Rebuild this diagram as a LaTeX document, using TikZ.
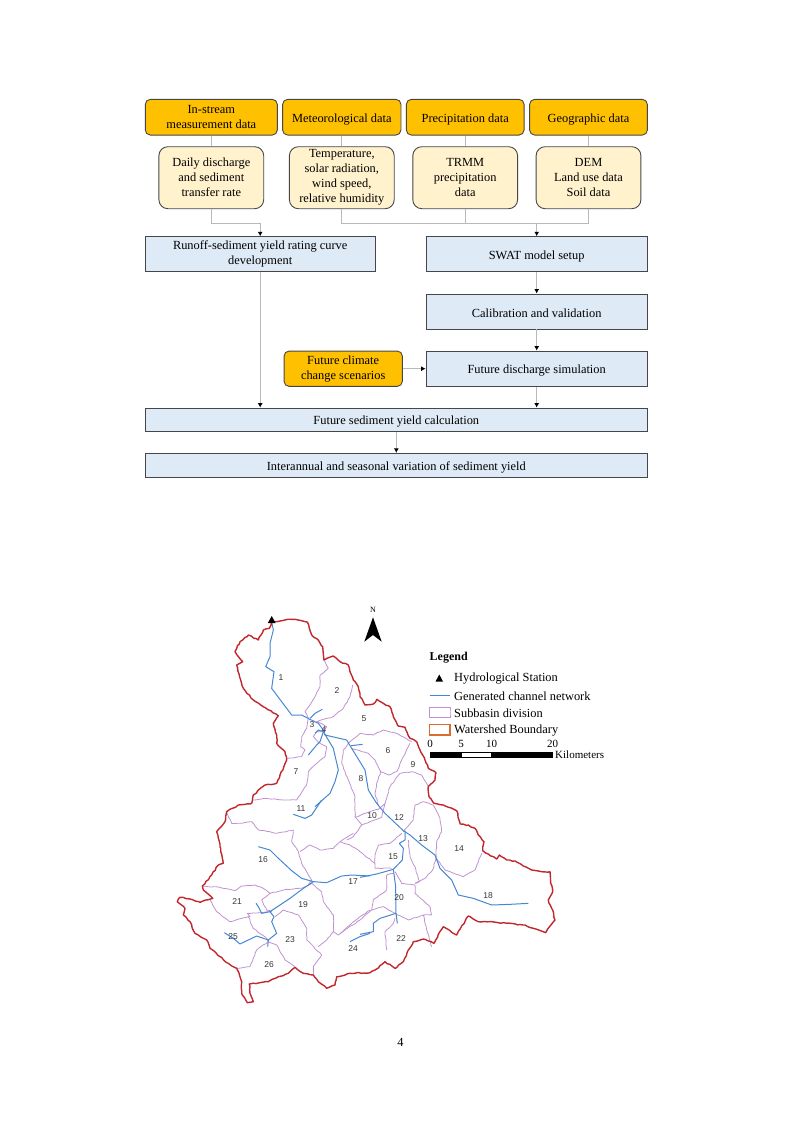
\documentclass[tikz,border=0pt]{standalone}
\usepackage{fontspec}
\setmainfont{Liberation Serif}
\setsansfont{Liberation Sans}
\usetikzlibrary{arrows.meta, positioning, calc, decorations.pathmorphing}
\definecolor{inputcolor}  {RGB}{255, 192, 0}
\definecolor{datacolor}   {RGB}{255, 242, 204}
\definecolor{stepcolor}   {RGB}{222, 234, 246}
\definecolor{edgecolor}   {RGB}{70, 70, 72}
\definecolor{wirecolor}   {RGB}{185, 185, 185}
\definecolor{bordercolor} {RGB}{192, 40, 45}
\definecolor{rivercolor}  {RGB}{70, 135, 212}
\definecolor{subcolor}    {RGB}{192, 146, 208}
\definecolor{legendorange}{RGB}{217, 108, 48}
\pgfmathsetseed{7}
\tikzset{
	baseblock/.style={
		rectangle, inner sep=0pt,
		align=center, font=\fontsize{12.4}{15}\selectfont,
		execute at begin node={\rule{0pt}{12.5pt}},
		draw=edgecolor, line width=0.9pt
	},
	inputblock/.style={
		baseblock, rounded corners=5pt, fill=inputcolor
	},
	datablock/.style={
		baseblock, rounded corners=9pt, fill=datacolor,
		minimum width=104.8pt, minimum height=62pt
	},
	stepblock/.style={
		baseblock, fill=stepcolor
	},
	wire/.style={
		line width=1pt, color=wirecolor
	},
	arrow/.style={
		-{Latex[length=4.5pt,width=5pt,color=black]},
		line width=1pt, color=wirecolor
	},
	boundaryline/.style={
		draw=bordercolor, line width=1.4pt, line join=round,
		decorate, decoration={random steps, segment length=3pt, amplitude=0.6pt}
	},
	riverline/.style={
		draw=rivercolor, line width=1pt, line join=round
	},
	subline/.style={
		draw=subcolor, line width=0.8pt, line join=round,
		decorate, decoration={random steps, segment length=3pt, amplitude=0.4pt}
	},
	subno/.style={
		font=\sffamily\fontsize{8.5}{10}\selectfont, text=black!80, inner sep=0pt
	},
	legendtext/.style={
		font=\fontsize{12.4}{14}\selectfont, anchor=west, inner sep=0pt
	},
	scaletext/.style={
		font=\fontsize{11}{13}\selectfont, inner sep=0pt
	},
	zoomA/.style={shift={(170,600)}, x=0.33333pt, y=-0.33333pt},
	zoomB/.style={shift={(170,800)}, x=0.33333pt, y=-0.33333pt},
	zoomC/.style={shift={(360,760)}, x=0.33333pt, y=-0.33333pt},
	zoomD/.style={shift={(340,730)}, x=0.33333pt, y=-0.33333pt},
	zoomE/.style={shift={(340,830)}, x=0.33333pt, y=-0.33333pt}
}
\begin{document}
\begin{tikzpicture}[x=1pt, y=-1pt]
	\useasboundingbox (0,0) rectangle (793,1122);

	%% ===============================
	%%  ROW 1 - input data
	%% ===============================
	\node[inputblock, minimum width=132pt, minimum height=35.7pt] (instream) at (211.3,117.2) {In-stream\\measurement data};
	\node[inputblock, minimum width=118.3pt, minimum height=35.7pt] (meteo) at (341.8,117.2) {Meteorological data};
	\node[inputblock, minimum width=117.7pt, minimum height=35.7pt] (precip) at (465.2,117.2) {Precipitation data};
	\node[inputblock, minimum width=117.7pt, minimum height=35.7pt] (geo) at (588.5,117.2) {Geographic data};

	%% ===============================
	%%  ROW 2 - data sets
	%% ===============================
	\node[datablock] (discharge) at (211.3,177.7) {Daily discharge\\and sediment\\transfer rate};
	\node[datablock] (climate) at (341.8,177.7) {Temperature,\\solar radiation,\\wind speed,\\relative humidity};
	\node[datablock] (trmm) at (465.2,177.7) {TRMM\\precipitation\\data};
	\node[datablock] (dem) at (588.5,177.7) {DEM\\Land use data\\Soil data};

	%% ===============================
	%%  ROW 3 - processing steps
	%% ===============================
	\node[stepblock, minimum width=229.7pt, minimum height=35pt] (rating) at (260.2,254.2) {Runoff-sediment yield rating curve\\development};
	\node[stepblock, minimum width=221.3pt, minimum height=35pt] (swat) at (536.7,254.2) {SWAT model setup};
	\node[stepblock, minimum width=221.3pt, minimum height=35pt] (calib) at (536.7,311.5) {Calibration and validation};
	\node[stepblock, minimum width=221.3pt, minimum height=35.3pt] (simul) at (536.7,368.7) {Future discharge simulation};
	\node[inputblock, minimum width=118.3pt, minimum height=35.3pt] (scenario) at (343.2,368.7) {Future climate\\change scenarios};
	\node[stepblock, minimum width=502pt, minimum height=23.7pt] (sedyield) at (396.3,419.9) {Future sediment yield calculation};
	\node[stepblock, minimum width=502pt, minimum height=23.7pt] (variation) at (396.3,465.2) {Interannual and seasonal variation of sediment yield};

	% input -> data set
	\draw[wire] (instream.south) -- (discharge.north);
	\draw[wire] (meteo.south) -- (climate.north);
	\draw[wire] (precip.south) -- (trmm.north);
	\draw[wire] (geo.south) -- (dem.north);

	% data set -> rating curve
	\coordinate (bendleft) at (211.3,223.3);
	\draw[wire] (discharge.south) -- (bendleft);
	\draw[arrow] (bendleft) -| (rating.north);

	% data sets -> SWAT
	\coordinate (bendmid) at (536.7,223.3);
	\draw[wire] (climate.south) |- (bendmid);
	\draw[wire] (trmm.south) |- (bendmid);
	\draw[wire] (dem.south) |- (bendmid);
	\draw[arrow] (bendmid) -- (swat.north);

	\draw[arrow] (swat.south) -- (calib.north);
	\draw[arrow] (calib.south) -- (simul.north);
	\draw[arrow] (scenario.east) -- (simul.west);
	\draw[arrow] (simul.south) -- (simul.south |- sedyield.north);
	\draw[arrow] (rating.south) -- (rating.south |- sedyield.north);
	\draw[arrow] (sedyield.south) -- (variation.north);

	%% ===============================
	%%  MAP - subbasin division
	%% ===============================
	\begin{scope}[zoomA]
		\draw[subline] (462,180) -- (475,205) -- (450,225) -- (450,260) -- (432,295) -- (405,335) -- (415,355) -- (410,385) -- (395,410) -- (392,440) -- (405,450) -- (395,470) -- (350,475);
		\draw[subline] (548,255) -- (540,290) -- (520,325) -- (490,350) -- (460,358) -- (440,365) -- (470,380) -- (462,395) -- (440,395) -- (430,410) -- (450,430) -- (470,440) -- (465,470) -- (440,490) -- (415,515) -- (410,555) -- (380,600) -- (340,600) -- (290,595) -- (245,600);
	\end{scope}
	\begin{scope}[zoomD]
		\draw[subline] (215,35) -- (170,10) -- (130,0) -- (100,15) -- (60,10) -- (30,35) -- (10,60) -- (5,100) -- (25,150) -- (45,200) -- (45,260) -- (65,285) -- (40,320) -- (20,330);
		\draw[subline] (35,55) -- (65,65) -- (85,70) -- (105,90) -- (122,125) -- (110,160) -- (105,190) -- (115,225);
		\draw[subline] (122,125) -- (145,135) -- (170,125) -- (185,90) -- (210,40);
		\draw[subline] (135,220) -- (150,170) -- (180,130) -- (215,125) -- (245,135) -- (265,170);
		\draw[subline] (45,262) -- (75,250) -- (115,238) -- (135,220) -- (125,262) -- (90,275) -- (65,285);
		\draw[subline] (190,305) -- (220,270) -- (225,225) -- (250,215) -- (280,225) -- (300,265) -- (305,305);
	\end{scope}
	\begin{scope}[zoomB]
		\draw[subline] (170,35) -- (185,70) -- (215,70) -- (245,65) -- (265,90) -- (300,95) -- (320,100) -- (370,90) -- (365,125) -- (385,155) -- (395,190) -- (425,240) -- (415,255);
		\draw[subline] (390,155) -- (420,135) -- (450,150) -- (490,145) -- (510,125) -- (550,100);
		\draw[subline] (97,258) -- (150,262) -- (195,272) -- (215,258) -- (255,255) -- (280,265) -- (300,280) -- (275,300) -- (290,330) -- (305,335);
		\draw[subline] (300,280) -- (340,270) -- (395,265) -- (425,250);
		\draw[subline] (425,250) -- (455,275) -- (460,305) -- (490,345) -- (490,395) -- (505,405) -- (540,375) -- (570,350) -- (600,330);
		\draw[subline] (120,300) -- (140,335) -- (180,365) -- (215,355) -- (240,350) -- (232,340) -- (270,338) -- (300,335);
		\draw[subline] (235,350) -- (250,385) -- (290,415) -- (295,425);
		\draw[subline] (315,350) -- (340,330) -- (385,345) -- (410,385) -- (410,420) -- (455,465) -- (430,500) -- (430,525);
		\draw[subline] (490,395) -- (470,420) -- (445,440);
		\draw[subline] (295,425) -- (320,435) -- (345,480) -- (375,500);
		\draw[subline] (295,425) -- (260,450) -- (240,500) -- (200,505);
	\end{scope}
	\begin{scope}[zoomC]
		\draw[subline] (245,215) -- (230,245) -- (228,295) -- (218,330) -- (195,355) -- (165,370);
		\draw[subline] (228,295) -- (255,330) -- (310,350) -- (345,330) -- (365,280);
		\draw[subline] (145,240) -- (150,290) -- (165,320) -- (178,365) -- (165,370);
	\end{scope}
	\begin{scope}[zoomE]
		\draw[subline] (185,10) -- (150,40) -- (115,45) -- (105,75) -- (105,115) -- (155,115);
		\draw[subline] (0,35) -- (30,45) -- (60,65) -- (105,100);
		\draw[subline] (165,125) -- (185,160) -- (225,165) -- (225,190) -- (270,230) -- (275,255) -- (250,255) -- (260,300) -- (275,350);
		\draw[subline] (160,130) -- (140,135) -- (140,180) -- (100,210) -- (95,240) -- (130,230) -- (165,250) -- (205,270) -- (250,255);
		\draw[subline] (95,240) -- (60,270) -- (0,310);
		\draw[subline] (165,265) -- (160,280) -- (135,305) -- (140,360);
	\end{scope}

	%% ===============================
	%%  MAP - channel network
	%% ===============================
	\begin{scope}[zoomA]
		\draw[riverline] (305,65) -- (310,90) -- (300,130) -- (300,170) -- (287,200) -- (312,215) -- (305,265) -- (320,285) -- (365,345) -- (395,345) -- (420,358) -- (445,370) -- (460,390) -- (465,405) -- (530,420) -- (545,445) -- (585,510);
		\draw[riverline] (460,395) -- (490,445) -- (505,510) -- (495,545) -- (480,580) -- (435,620);
		\draw[riverline] (420,355) -- (435,340) -- (457,328);
		\draw[riverline] (543,437) -- (578,433);
		\draw[riverline] (460,395) -- (450,425) -- (440,435) -- (415,465);
		\draw[riverline] (435,400) -- (445,390) -- (460,395);
	\end{scope}
	\begin{scope}[zoomB]
		\draw[riverline] (455,0) -- (425,45) -- (405,55) -- (370,43);
		\draw[riverline] (600,228) -- (545,225) -- (515,228) -- (470,248) -- (430,245) -- (395,235) -- (365,212) -- (320,170) -- (300,150) -- (265,140);
		\draw[riverline] (430,245) -- (400,265) -- (360,295) -- (300,335) -- (275,340) -- (265,320) -- (258,310);
		\draw[riverline] (300,335) -- (312,350) -- (305,365) -- (320,400) -- (295,420) -- (260,408) -- (210,432) -- (190,415) -- (163,398);
		\draw[riverline] (295,420) -- (293,440);
		\draw[riverline] (600,400) -- (570,410) -- (540,425);
	\end{scope}
	\begin{scope}[zoomC]
		\draw[riverline] (15,30) -- (25,90) -- (50,130) -- (75,160) -- (130,212) -- (150,225) -- (185,255) -- (225,285) -- (240,325) -- (275,360) -- (295,405) -- (340,415) -- (395,435) -- (450,433) -- (505,430);
		\draw[riverline] (135,212) -- (135,240) -- (118,250) -- (130,265) -- (127,300) -- (100,328) -- (50,342) -- (0,352);
		\draw[riverline] (100,328) -- (107,380) -- (108,460) -- (112,490);
		\draw[riverline] (108,460) -- (60,475) -- (40,490) -- (40,515) -- (0,523);
	\end{scope}

	%% ===============================
	%%  MAP - watershed boundary
	%% ===============================
	\draw[boundaryline] (271.7,621.7) -- (276.7,621.7) -- (285,620) -- (295,619.3) -- (301.7,620.7) -- (307.3,622) -- (309.3,628.3) -- (311.7,635) -- (318.3,640) -- (322.7,646.7) -- (324,660) -- (333.3,656) -- (340,661.7) -- (348.3,665) -- (350,671.7) -- (353.3,680) -- (358.3,686.7) -- (360,696.7) -- (365,705) -- (373.3,704) -- (377,699.3) -- (383.3,703.3) -- (390,706.7) -- (393.3,716.7) -- (398.3,726) -- (405,727.3) -- (410,738.3) -- (416.7,741.7) -- (420,750) -- (425,760) -- (428.3,768.3) -- (436,772.7) -- (435,780) -- (428.3,786.7) -- (429,796.7) -- (434,803.3) -- (443.3,805) -- (456.7,810.7) -- (460,824) -- (468.3,825) -- (475,828.3) -- (478.3,835) -- (484,841.7) -- (482.7,850.7) -- (496.7,859) -- (499.3,855) -- (506.7,860) -- (515,861) -- (523.3,866) -- (531.7,870) -- (541.7,871.7) -- (550,871.7) -- (550.7,883.3) -- (552.7,891.7) -- (548.3,900) -- (551.7,908.3) -- (555,920) -- (545.7,932.7) -- (533.3,928.3) -- (523.3,925) -- (506.7,923.3) -- (490,921.7) -- (478.3,921.7) -- (468.3,916) -- (456.7,935) -- (443.3,926.7) -- (434,943.3) -- (423.3,939) -- (413.3,941.7) -- (408.3,950) -- (403.3,961.7) -- (395,968.3) -- (385,961.7) -- (375,970) -- (370,972.7) -- (350,973.3) -- (336.7,976.7) -- (335,985) -- (326.7,988.3) -- (318.3,981.7) -- (313.3,975) -- (303.3,973.3) -- (295,967.3) -- (288.3,973.3) -- (278.3,976.7) -- (268.3,981.7) -- (249.3,984) -- (250,993.3) -- (253.3,1001.7) -- (247.3,1002.7) -- (241.7,993.3) -- (241.7,981.7) -- (236.7,968.3) -- (228.3,963.3) -- (220,956.7) -- (210,948.3) -- (206.7,940) -- (195,933.3) -- (190,921.7) -- (183.3,915) -- (185,908.3) -- (177.3,901.7) -- (180,897.3) -- (190,899) -- (200,902.3) -- (212.7,898.3) -- (203.3,890) -- (202.3,886) -- (211.7,875) -- (218.3,865) -- (223.3,863.3) -- (220,846.7) -- (216.7,831.7) -- (225,821.7) -- (226.7,811.7) -- (238.3,805) -- (251.7,803.3) -- (253.3,795) -- (265,785) -- (276.7,783.3) -- (280,775) -- (286.7,760) -- (285,751.7) -- (276.7,743.3) -- (276.7,735) -- (273.3,723.3) -- (278.3,715.7) -- (263.3,706.7) -- (253.3,700) -- (243.3,688.3) -- (236.7,665) -- (242.7,661.7) -- (235,651.7) -- (240,641.7) -- (248.3,635) -- (258.3,640) -- (263.3,630) -- (269.3,628.3) -- cycle;

	% station and north arrow
	\fill[black] (267.8,623) -- (271.7,616) -- (275.6,623) -- cycle;
	\fill[black] (373,617.3) -- (364.3,641.7) -- (373,635) -- (381.7,641.7) -- cycle;
	\node[scaletext, font=\fontsize{8}{9}\selectfont] (north) at (373,610) {N};

	%% ===============================
	%%  MAP - subbasin numbers
	%% ===============================
	\node[subno] (sub1) at (281,678) {1};
	\node[subno] (sub2) at (337,691) {2};
	\node[subno] (sub3) at (312,725) {3};
	\node[subno] (sub4) at (324,730) {4};
	\node[subno] (sub5) at (364,719) {5};
	\node[subno] (sub6) at (388,751) {6};
	\node[subno] (sub7) at (296,772) {7};
	\node[subno] (sub8) at (361,779) {8};
	\node[subno] (sub9) at (413,765) {9};
	\node[subno] (sub10) at (372,816) {10};
	\node[subno] (sub11) at (301,809) {11};
	\node[subno] (sub12) at (399,818) {12};
	\node[subno] (sub13) at (423,839) {13};
	\node[subno] (sub14) at (459,849) {14};
	\node[subno] (sub15) at (393,857) {15};
	\node[subno] (sub16) at (263,860) {16};
	\node[subno] (sub17) at (353,882) {17};
	\node[subno] (sub18) at (488,896) {18};
	\node[subno] (sub19) at (303,905) {19};
	\node[subno] (sub20) at (399,898) {20};
	\node[subno] (sub21) at (237,902) {21};
	\node[subno] (sub22) at (401,939) {22};
	\node[subno] (sub23) at (290,940) {23};
	\node[subno] (sub24) at (353,949) {24};
	\node[subno] (sub25) at (233,937) {25};
	\node[subno] (sub26) at (269,965) {26};

	%% ===============================
	%%  LEGEND and scale bar
	%% ===============================
	\node[legendtext, font=\bfseries\fontsize{12}{13}\selectfont] (legend) at (429.5,658) {Legend};
	\fill[black] (435.5,681.5) -- (439.3,674.5) -- (443,681.5) -- cycle;
	\node[legendtext] (station) at (454,678.5) {Hydrological Station};
	\draw[riverline] (429.5,695) -- (450,695);
	\node[legendtext] (network) at (454,696) {Generated channel network};
	\draw[subline, decoration={amplitude=0pt}] (429.5,707.5) rectangle (450,717.5);
	\node[legendtext] (division) at (454,713.5) {Subbasin division};
	\draw[draw=legendorange, line width=1.2pt] (429.5,724.5) rectangle (450,735);
	\node[legendtext] (watershed) at (454,731) {Watershed Boundary};

	\node[scaletext] (tick0) at (430,744) {0};
	\node[scaletext] (tick5) at (461,744) {5};
	\node[scaletext] (tick10) at (491.5,744) {10};
	\node[scaletext] (tick20) at (552.5,744) {20};
	\draw[black, fill=black, line width=0.5pt] (430.5,752.5) rectangle (461,757);
	\draw[black, fill=white, line width=0.5pt] (461,752.5) rectangle (491,757);
	\draw[black, fill=black, line width=0.5pt] (491,752.5) rectangle (552.5,757);
	\node[scaletext, anchor=west] (kilo) at (555,754.5) {Kilometers};

	%% page number
	\node[font=\fontsize{12.4}{14}\selectfont, inner sep=0pt] (pageno) at (400.5,1042) {4};
\end{tikzpicture}
\end{document}
